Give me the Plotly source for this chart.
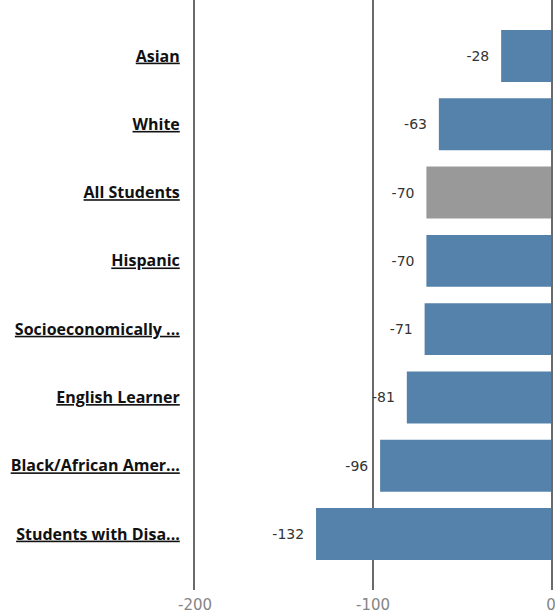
import plotly.graph_objects as go

# Student groups, top to bottom, with their change values
groups = ["Asian", "White", "All Students", "Hispanic", "Socioeconomically ...",
          "English Learner", "Black/African Amer...", "Students with Disa..."]
values = [-28, -63, -70, -70, -71, -81, -96, -132]
bar_colors = ["#5482AB", "#5482AB", "#999999", "#5482AB", "#5482AB",
              "#5482AB", "#5482AB", "#5482AB"]
x_ticks = [-200, -100, 0]
x_tick_labels = ["-200", "-100", "0"]

fig = go.Figure(go.Bar(
    x=values,
    y=groups,
    orientation="h",
    marker=dict(color=bar_colors, line=dict(width=0)),
    text=[f"{v}\u00a0\u00a0" for v in values],
    textposition="outside",
    textfont=dict(family="DejaVu Sans", size=14, color="#333333"),
    cliponaxis=False,
    hoverinfo="skip",
))

fig.update_layout(
    width=555,
    height=615,
    margin=dict(l=195, r=4, t=0, b=25),
    plot_bgcolor="white",
    paper_bgcolor="white",
    bargap=0.24,
    showlegend=False,
    xaxis=dict(
        range=[-200, 0],
        tickvals=x_ticks,
        ticktext=x_tick_labels,
        showgrid=True,
        gridcolor="#6a6a6a",
        gridwidth=2,
        zeroline=False,
        showline=False,
        ticks="",
        ticklabelstandoff=4,
        ticklabeloverflow="allow",
        tickfont=dict(family="DejaVu Sans", size=15, color="#858585"),
        fixedrange=True,
    ),
    yaxis=dict(
        categoryorder="array",
        categoryarray=groups,
        range=[7.82, -0.82],
        showgrid=False,
        zeroline=False,
        # left/right frame lines sit at x = -200 and x = 0
        showline=True,
        mirror=True,
        linecolor="#6a6a6a",
        linewidth=2,
        ticks="",
        ticklabelstandoff=10,
        tickmode="array",
        tickvals=groups,
        ticktext=[f"<b><u>{g}</u></b>" for g in groups],
        tickfont=dict(family="Open Sans", size=16, color="#111111"),
        fixedrange=True,
    ),
)

fig.write_html("out.html")
